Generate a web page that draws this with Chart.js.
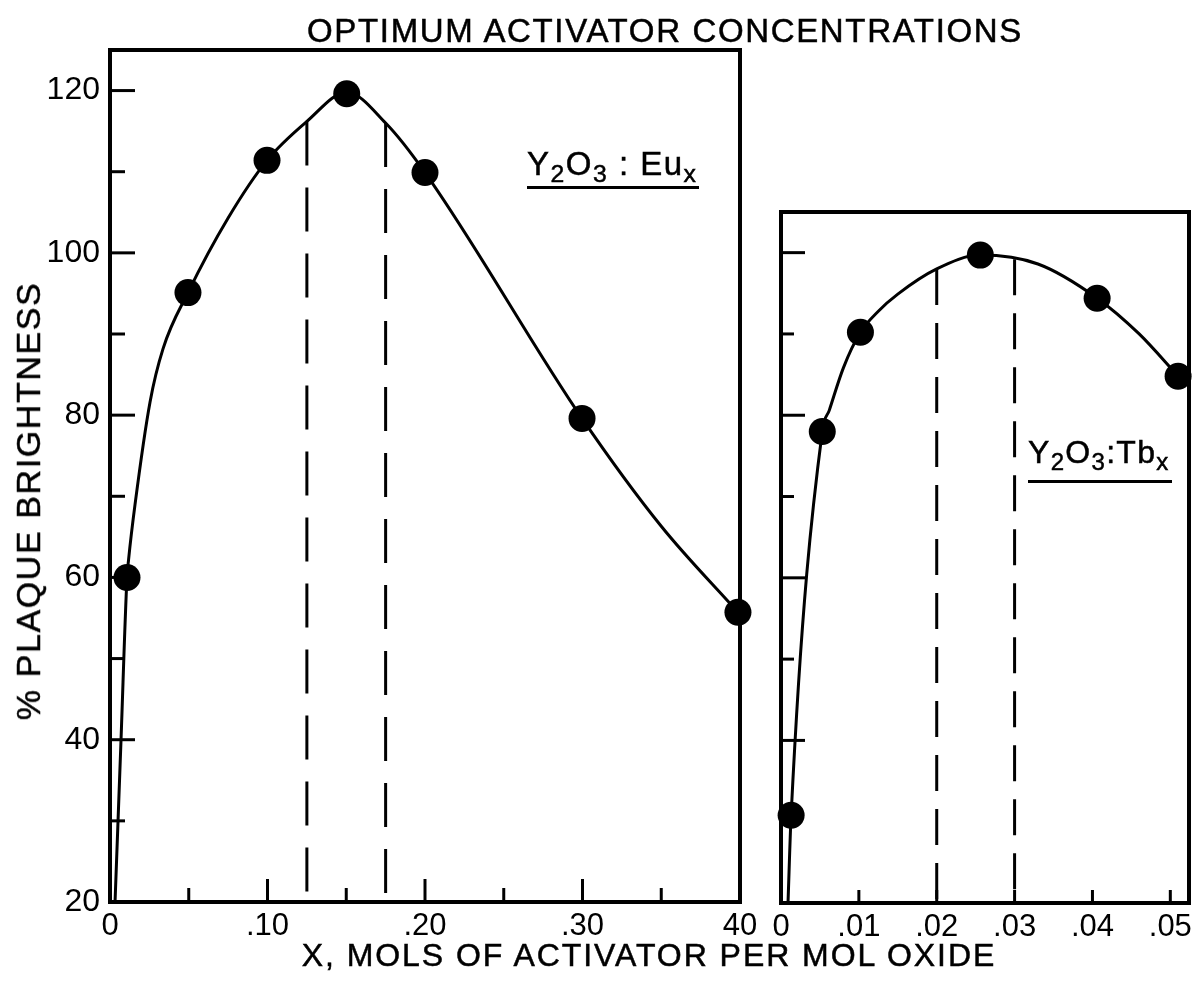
<!DOCTYPE html>
<html>
<head>
<meta charset="utf-8">
<script src="https://cdn.jsdelivr.net/npm/chart.js@4/dist/chart.umd.min.js"></script>
<style>
  html, body { margin: 0; padding: 0; background: #fff; }
  body { width: 1204px; height: 986px; position: relative; overflow: hidden; font-family: "Liberation Sans", Arial, sans-serif; color: #000; }
  canvas { position: absolute; left: 0; top: 0; }
  .txt { position: absolute; white-space: nowrap; line-height: 1; -webkit-text-stroke: 0.5px #000; }
  #title { left: 0; width: 1330px; text-align: center; top: 14px; font-size: 33px; letter-spacing: 1.65px; }
  #xtitle { left: 0; width: 1298px; text-align: center; top: 939px; font-size: 32px; letter-spacing: 1.95px; }
  #ytitle { left: 28px; top: 501px; font-size: 34px; letter-spacing: 1.6px; transform: translate(-50%, -50%) rotate(-90deg); }
  .lab { position: absolute; border-bottom: 3px solid #000; padding: 0 2px 6px 0; line-height: 1; white-space: nowrap; -webkit-text-stroke: 0.5px #000; }
  .lab sub { font-size: 0.75em; vertical-align: -0.3em; line-height: 0; }
  #euLab { left: 527px; top: 147px; font-size: 33px; letter-spacing: 1.5px; }
  #tbLab { left: 1028px; top: 436px; font-size: 32px; letter-spacing: 1.3px; padding-bottom: 12px; }
</style>
</head>
<body>
<canvas id="cEu" width="1204" height="986"></canvas>
<canvas id="cTb" width="1204" height="986"></canvas>
<div class="txt" id="title">OPTIMUM ACTIVATOR CONCENTRATIONS</div>
<div class="txt" id="xtitle">X, MOLS OF ACTIVATOR PER MOL OXIDE</div>
<div class="txt" id="ytitle">% PLAQUE BRIGHTNESS</div>
<div class="lab" id="euLab">Y<sub>2</sub>O<sub>3</sub> : Eu<sub>x</sub></div>
<div class="lab" id="tbLab">Y<sub>2</sub>O<sub>3</sub>:Tb<sub>x</sub></div>
<script>
// ---------- data ----------
// Y2O3:Eu_x measured points
const euX = [0.0108, 0.0495, 0.0997, 0.1503, 0.2000, 0.2997, 0.3987];
const euY = [60.0, 95.1, 111.4, 119.6, 109.9, 79.6, 55.7];
// Y2O3:Eu_x drawn smooth curve
const euCurveX = [0.0032, 0.0070, 0.0108, 0.0118, 0.0159, 0.0254, 0.0337, 0.0495, 0.075, 0.0997, 0.125, 0.1503, 0.175, 0.2000, 0.2997, 0.35, 0.3987];
const euCurveY = [20, 40, 60.0, 62.2, 69.0, 81.6, 88.2, 95.1, 104.3, 111.4, 116.2, 119.8, 116.0, 109.9, 79.6, 66.3, 55.7];
// Y2O3:Eu_x optimum-range dashed lines
const euDashX = [0.125, 0.175];
const euDashTop = [116.2, 116.0];

// Y2O3:Tb_x measured points
const tbX = [0.0013, 0.0053, 0.0102, 0.0256, 0.0406, 0.0510];
const tbY = [30.8, 78.0, 90.2, 99.7, 94.4, 84.8];
// Y2O3:Tb_x drawn smooth curve
const tbCurveX = [0.0009, 0.0013, 0.0053, 0.0062, 0.0080, 0.0102, 0.0125, 0.015, 0.020, 0.0256, 0.033, 0.0406, 0.046, 0.0510];
const tbCurveY = [20, 30.8, 78.0, 80.6, 85.8, 90.2, 92.8, 94.9, 98.0, 99.7, 98.6, 94.4, 90.0, 84.8];
// Y2O3:Tb_x optimum-range dashed lines
const tbDashX = [0.02, 0.03];
const tbDashTop = [98.0, 99.2];

// axis ranges / tick labels
const yMin = 20, euYMax = 125, tbYMax = 105;
const euXMax = 0.40, tbXMax = 0.0524;
const euXTickLabels = { 0: '0', 10: '.10', 20: '.20', 30: '.30', 40: '40' };       // key = hundredths
const tbXTickLabels = { 0: '0', 10: '.01', 20: '.02', 30: '.03', 40: '.04', 50: '.05' }; // key = thousandths
const yTickLabels = [20, 40, 60, 80, 100, 120];

// ---------- helpers ----------
const FONT = "'Liberation Sans', Arial, sans-serif";
const pts = (xs, ys) => xs.map((x, i) => ({ x: x, y: ys[i] }));

function dashSets(xs, tops, dash) {
  return xs.map((x, i) => ({
    data: [{ x: x, y: tops[i] }, { x: x, y: yMin }],
    showLine: true, borderColor: '#000', borderWidth: 3, borderDash: dash,
    pointRadius: 0, fill: false
  }));
}

const framePlugin = {
  id: 'frame',
  afterDatasetsDraw(chart, args, o) {
    const { ctx, chartArea: a } = chart;
    const xs = chart.scales.x, ys = chart.scales.y;
    ctx.save();
    ctx.strokeStyle = '#000';
    ctx.lineCap = 'butt';
    ctx.lineWidth = 3;
    ys.ticks.forEach(t => {
      const v = Math.round(t.value);
      if (Math.abs(t.value - v) > 1e-6 || v % 10 !== 0 || v <= ys.min || v >= ys.max) return;
      const len = (v % 20 === 0) ? o.yMajor : o.yMinor;
      const p = ys.getPixelForValue(v);
      ctx.beginPath(); ctx.moveTo(a.left, p); ctx.lineTo(a.left + len, p); ctx.stroke();
    });
    xs.ticks.forEach(t => {
      const k = Math.round(t.value * o.xScaleK);
      if (Math.abs(t.value * o.xScaleK - k) > 1e-6 || k <= 0 || t.value >= xs.max - 1e-9) return;
      const len = (k % o.xMajorEvery === 0) ? o.xMajor : o.xMinor;
      const p = xs.getPixelForValue(t.value);
      ctx.beginPath(); ctx.moveTo(p, a.bottom); ctx.lineTo(p, a.bottom - len); ctx.stroke();
    });
    ctx.lineWidth = 4;
    ctx.strokeRect(a.left, a.top, a.right - a.left, a.bottom - a.top);
    ctx.restore();
  }
};

function makeChart(id, cfg) {
  return new Chart(document.getElementById(id), {
    type: 'scatter',
    data: {
      datasets: [
        {
          data: pts(cfg.curveX, cfg.curveY), showLine: true, borderColor: '#000', borderWidth: 3,
          cubicInterpolationMode: 'monotone', pointRadius: 0, fill: false
        },
        {
          data: pts(cfg.ptX, cfg.ptY), showLine: false, pointRadius: 13.5, clip: false,
          pointBackgroundColor: '#000', pointBorderColor: '#000', pointBorderWidth: 0
        },
        ...dashSets(cfg.dashX, cfg.dashTop, cfg.dash)
      ]
    },
    options: {
      responsive: false, animation: false, devicePixelRatio: 1,
      layout: { padding: cfg.padding },
      plugins: { legend: { display: false }, tooltip: { enabled: false }, frame: cfg.frame },
      scales: {
        x: {
          type: 'linear', min: 0, max: cfg.xMax,
          grid: { display: false, drawTicks: false }, border: { display: false },
          ticks: {
            stepSize: cfg.xStep, includeBounds: false, autoSkip: false, maxRotation: 0, minRotation: 0, padding: 6,
            color: '#000', font: { family: FONT, size: 31 },
            callback: v => {
              const k = Math.round(v * cfg.frame.xScaleK);
              if (Math.abs(v * cfg.frame.xScaleK - k) > 1e-6) return '';
              return cfg.xLabels[k] !== undefined ? cfg.xLabels[k] : '';
            }
          },
          afterFit: s => { s.height = cfg.xAxisH; s.paddingLeft = 0; s.paddingRight = 0; }
        },
        y: {
          type: 'linear', min: yMin, max: cfg.yMax,
          grid: { display: false, drawTicks: false }, border: { display: false },
          ticks: {
            display: cfg.yLabels, stepSize: 10, includeBounds: false, autoSkip: false, padding: 10,
            color: '#000', font: { family: FONT, size: 32 },
            callback: v => yTickLabels.includes(Math.round(v)) && Math.abs(v - Math.round(v)) < 1e-6 ? String(Math.round(v)) : ''
          },
          afterFit: s => { s.width = cfg.yAxisW; s.paddingTop = 0; s.paddingBottom = 0; }
        }
      }
    },
    plugins: [framePlugin]
  });
}

makeChart('cEu', {
  curveX: euCurveX, curveY: euCurveY, ptX: euX, ptY: euY,
  dashX: euDashX, dashTop: euDashTop, dash: [44, 22],
  padding: { top: 50, right: 1204 - 740, left: 0, bottom: 0 },
  xMax: euXMax, xStep: 0.05, xLabels: euXTickLabels, xAxisH: 986 - 902,
  yMax: euYMax, yLabels: true, yAxisW: 110,
  frame: { yMajor: 25, yMinor: 15, xMajor: 23, xMinor: 14, xScaleK: 100, xMajorEvery: 10 }
});

makeChart('cTb', {
  curveX: tbCurveX, curveY: tbCurveY, ptX: tbX, ptY: tbY,
  dashX: tbDashX, dashTop: tbDashTop, dash: [36, 18],
  padding: { top: 212, right: 1204 - 1189, left: 0, bottom: 0 },
  xMax: tbXMax, xStep: 0.01, xLabels: tbXTickLabels, xAxisH: 986 - 903,
  yMax: tbYMax, yLabels: false, yAxisW: 781,
  frame: { yMajor: 24, yMinor: 13, xMajor: 13, xMinor: 13, xScaleK: 1000, xMajorEvery: 10 }
});
</script>
</body>
</html>
